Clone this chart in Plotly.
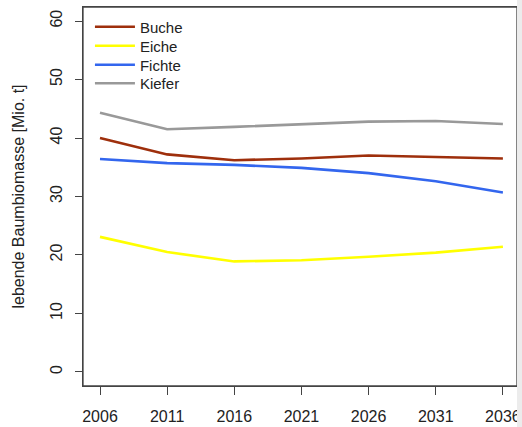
import plotly.graph_objects as go

years = [2006, 2011, 2016, 2021, 2026, 2031, 2036]
buche = [40.0, 37.2, 36.2, 36.5, 37.0, 36.8, 36.5]
eiche = [23.1, 20.5, 18.9, 19.1, 19.7, 20.4, 21.4]
fichte = [36.4, 35.7, 35.4, 34.9, 34.0, 32.6, 30.7]
kiefer = [44.3, 41.5, 41.9, 42.4, 42.8, 42.9, 42.4]

names = ["Buche", "Eiche", "Fichte", "Kiefer"]
values = [buche, eiche, fichte, kiefer]
colors = ["#9e2f0c", "#ffff00", "#3366ee", "#999999"]
legend_ids = ["legend", "legend2", "legend3", "legend4"]
legend_y = [0.9473, 0.8971, 0.8470, 0.7982]

FONT = "Liberation Sans, Arial, sans-serif"
TXT = "#222222"
AX = "#444444"

fig = go.Figure()
for name, vals, col, lid in zip(names, values, colors, legend_ids):
    fig.add_trace(go.Scatter(x=years, y=vals, mode="lines", name=name,
                             line=dict(color=col, width=2.6), legend=lid))

legend_common = dict(x=0.016, xanchor="left", yanchor="middle",
                     bgcolor="rgba(0,0,0,0)", borderwidth=0,
                     font=dict(size=15, family=FONT, color=TXT), itemwidth=40)
layout_legends = {lid: dict(y=ly, **legend_common)
                  for lid, ly in zip(legend_ids, legend_y)}

fig.update_layout(
    template="none",
    width=522, height=427,
    margin=dict(l=83, r=5, t=7, b=41, autoexpand=False),
    paper_bgcolor="white", plot_bgcolor="white",
    font=dict(family=FONT, size=15, color=TXT),
    showlegend=True,
    xaxis=dict(range=[2004.734, 2037.05], tickvals=years,
               ticktext=[str(y) for y in years], automargin=False,
               showgrid=False, zeroline=False,
               showline=True, linecolor=AX, linewidth=1.3, mirror=True,
               ticks="outside", ticklen=8, tickcolor=AX, tickwidth=1.2,
               ticklabelstandoff=8,
               tickfont=dict(size=16, family=FONT, color=TXT)),
    yaxis=dict(range=[-2.4, 62.4], tickvals=[0, 10, 20, 30, 40, 50, 60],
               automargin=False,
               showgrid=False, zeroline=False,
               showline=True, linecolor=AX, linewidth=1.3, mirror=True,
               ticks="outside", ticklen=7, tickcolor=AX, tickwidth=1.2,
               tickangle=-90, ticklabelstandoff=6,
               tickfont=dict(size=16, family=FONT, color=TXT),
               title=dict(text="lebende Baumbiomasse [Mio. t]", standoff=19,
                          font=dict(size=16, family=FONT, color=TXT))),
    **layout_legends,
)

# box around the plotting region
fig.add_shape(type="rect", xref="paper", yref="paper", x0=0, x1=1,
              y0=0, y1=1, line=dict(color=AX, width=1.3), layer="above")
# light grey strip at the right edge of the picture
fig.add_shape(type="rect", xref="paper", yref="paper", x0=1.0, x1=1.05,
              y0=-0.2, y1=1.1, fillcolor="#ececec", line=dict(width=0),
              layer="above")

fig.write_html(
    "out.html",
    config={"displayModeBar": False},
    post_script=("document.body.style.margin='0';document.body.style.padding='0';"
                 "document.body.style.overflow='hidden';"
                 "document.documentElement.style.overflow='hidden';"),
)
